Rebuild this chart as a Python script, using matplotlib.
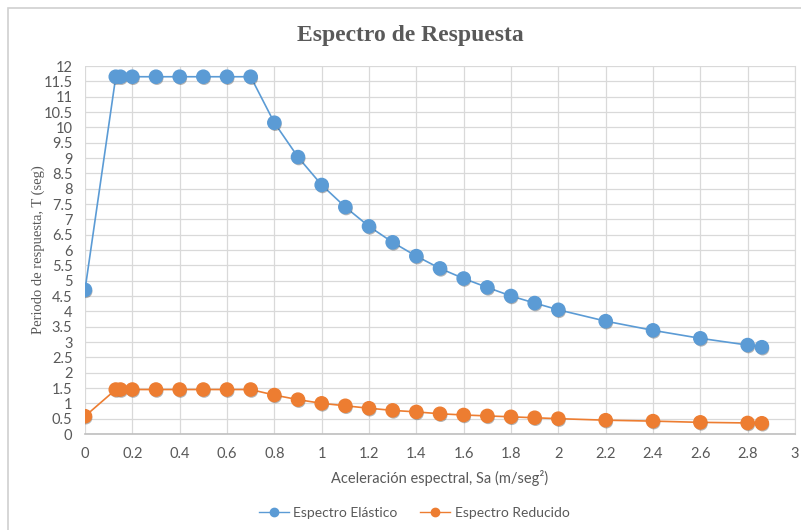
import matplotlib.pyplot as plt
import matplotlib.patheffects as pe
from matplotlib.patches import Rectangle

# Spectral acceleration (x) and response period values for both spectra
sa = [0.0, 0.13, 0.15, 0.2, 0.3, 0.4, 0.5, 0.6, 0.7, 0.8, 0.9, 1.0, 1.1, 1.2,
      1.3, 1.4, 1.5, 1.6, 1.7, 1.8, 1.9, 2.0, 2.2, 2.4, 2.6, 2.8, 2.86]
elastico = [4.7, 11.65, 11.65, 11.65, 11.65, 11.65, 11.65, 11.65, 11.65, 10.15,
            9.03, 8.12, 7.4, 6.77, 6.25, 5.8, 5.4, 5.07, 4.78, 4.5, 4.27, 4.05,
            3.68, 3.38, 3.12, 2.9, 2.83]
reducido = [0.58, 1.45, 1.45, 1.45, 1.45, 1.45, 1.45, 1.45, 1.45, 1.27, 1.12,
            1.0, 0.92, 0.84, 0.77, 0.72, 0.66, 0.62, 0.59, 0.56, 0.53, 0.5,
            0.45, 0.42, 0.38, 0.36, 0.35]

x_ticks = [0, 0.2, 0.4, 0.6, 0.8, 1, 1.2, 1.4, 1.6, 1.8, 2, 2.2, 2.4, 2.6, 2.8, 3]
y_ticks = [0, 0.5, 1, 1.5, 2, 2.5, 3, 3.5, 4, 4.5, 5, 5.5, 6, 6.5, 7, 7.5, 8,
           8.5, 9, 9.5, 10, 10.5, 11, 11.5, 12]

BLUE = "#5B9BD5"
ORANGE = "#ED7D31"
TEXT = "#595959"
GRID = "#D9D9D9"

fig = plt.figure(figsize=(8.01, 5.30), dpi=100)
fig.patch.set_facecolor("white")

# Outer chart frame
fig.patches.append(Rectangle((8 / 801, -0.01), 1.0, 1 - 8 / 530 + 0.01,
                             transform=fig.transFigure, fill=False,
                             edgecolor="#D0D0D0", linewidth=1.2))

ax = fig.add_axes([85 / 801, 1 - 434 / 530, (795 - 85) / 801, (434 - 66) / 530])

shadow = [pe.SimplePatchShadow(offset=(0.6, -1.2), shadow_rgbFace="#303030", alpha=0.35),
          pe.Normal()]

for y, c, lab in [(elastico, BLUE, "Espectro Elástico"),
                  (reducido, ORANGE, "Espectro Reducido")]:
    ax.plot(sa, y, color=c, linewidth=1.2, zorder=3, label=lab)
    ax.plot(sa, y, linestyle="none", marker="o", markersize=9.5,
            markerfacecolor=c, markeredgecolor=c, zorder=4,
            path_effects=shadow)

ax.set_xlim(0, 3)
ax.set_ylim(0, 12)
ax.set_xticks(x_ticks)
ax.set_xticklabels([f"{t:g}" for t in x_ticks])
ax.set_yticks(y_ticks)
ax.set_yticklabels([f"{t:g}" for t in y_ticks])
ax.grid(True, color=GRID, linewidth=0.9)
ax.set_axisbelow(True)
for s in ["top", "left"]:
    ax.spines[s].set_visible(False)
ax.spines["right"].set_color(GRID)
ax.spines["bottom"].set_color("#BFBFBF")
ax.spines["bottom"].set_linewidth(1.2)
ax.tick_params(length=0, colors=TEXT, labelsize=10.5, pad=9)
for lbl in ax.get_xticklabels() + ax.get_yticklabels():
    lbl.set_fontfamily("Lato")

fig.text(410 / 801, 1 - 36 / 530, "Espectro de Respuesta", ha="center", va="center",
         fontsize=17, fontweight="bold", family="Liberation Serif", color=TEXT)
fig.text(440 / 801, 1 - 478 / 530, "Aceleración espectral, Sa (m/seg²)",
         ha="center", va="center", fontsize=10.5, family="Lato", color=TEXT)
fig.text(38 / 801, 1 - 250 / 530, "Periodo de respuesta, T (seg)", rotation=90,
         ha="center", va="center", fontsize=10.5, family="Liberation Serif", color=TEXT)

handles = [plt.Line2D([], [], color=BLUE, linewidth=1.0, marker="o", markersize=6),
           plt.Line2D([], [], color=ORANGE, linewidth=1.0, marker="o", markersize=6)]
leg = fig.legend(handles, ["Espectro Elástico", "Espectro Reducido"],
                 loc="center", bbox_to_anchor=(414 / 801, 1 - 513 / 530), ncol=2,
                 frameon=False, handlelength=2.2, handletextpad=0.3,
                 columnspacing=1.6, prop={"family": "Lato", "size": 10})
for t in leg.get_texts():
    t.set_color(TEXT)

fig.savefig("out.png", dpi=100)
